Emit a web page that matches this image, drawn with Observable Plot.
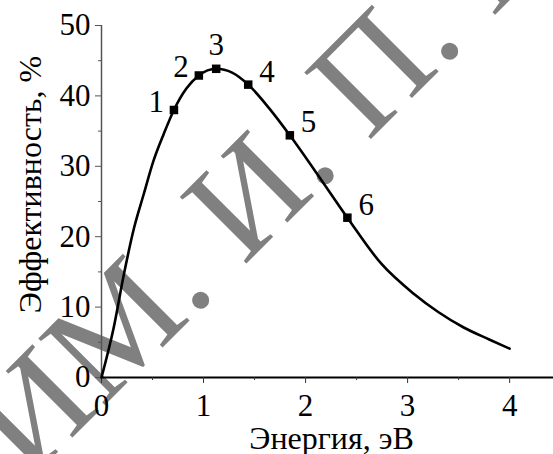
<!DOCTYPE html>
<html>
<head>
<meta charset="utf-8">
<script src="https://cdn.jsdelivr.net/npm/d3@7"></script>
<script src="https://cdn.jsdelivr.net/npm/@observablehq/plot@0.6"></script>
<style>
  html, body { margin: 0; padding: 0; background: #fff; }
  #chart svg { display: block; }
  #chart svg, #chart svg text { font-family: "Liberation Serif", "LiberationSerif", "Tinos", "Times New Roman", "Times", "Nimbus Roman", "Nimbus Roman No9 L", "FreeSerif", "Noto Serif", "DejaVu Serif", "Georgia", serif !important; }
</style>
</head>
<body>
<div id="chart"></div>
<script>
// Curve
const energy = [0, 0.12, 0.22, 0.32, 0.415, 0.51, 0.61, 0.71, 0.83, 0.954, 1.124, 1.28, 1.438, 1.64, 1.846, 2.1, 2.41, 2.74, 3.06, 3.3, 3.55, 3.8, 4.0];
const efficiency = [0, 7.1, 14.7, 21.3, 26.1, 30.8, 34.6, 38.0, 41.0, 42.9, 43.85, 43.3, 41.6, 38.3, 34.4, 29.2, 22.7, 16.2, 11.9, 9.3, 7.1, 5.4, 4.1];

// Marked points
const pointEnergy = [0.71, 0.954, 1.124, 1.438, 1.846, 2.41];
const pointEff = [38.0, 42.9, 43.85, 41.6, 34.4, 22.7];
const pointLabels = ["1", "2", "3", "4", "5", "6"];

// Ticks
const xTicks = [0, 1, 2, 3, 4];
const xMinor = [0.5, 1.5, 2.5, 3.5];
const yTicks = [0, 10, 20, 30, 40, 50];
const yMinor = [5, 15, 25, 35, 45];

const xLabel = "Энергия, эВ";
const yLabel = "Эффективность, %";
const watermark = ["ИМ. И. П. П"];

const curve = energy.map((e, i) => ({e, v: efficiency[i]}));
const pts = pointEnergy.map((e, i) => ({e, v: pointEff[i], label: pointLabels[i], i}));

const FS = 31;
const fmt = d => String(d);

const chart = Plot.plot({
  width: 553,
  height: 454,
  marginLeft: 101,
  marginRight: 0,
  marginTop: 25,
  marginBottom: 77,
  style: "font-size: 31px; background: #fff; color: #000; overflow: visible;",
  x: {domain: [0, 4.43]},
  y: {domain: [0, 50]},
  marks: [
    Plot.text(watermark, {frameAnchor: "bottom-left", rotate: -45, textAnchor: "start", lineAnchor: "bottom",
      dx: -73, dy: 104, fontSize: 144, fill: "#808080"}),
    Plot.ruleX([0], {stroke: "#555", strokeWidth: 1.5}),
    Plot.ruleY([0], {stroke: "#000", strokeWidth: 1.8}),
    Plot.axisX({ticks: xTicks, tickFormat: fmt, tickSize: 6, tickPadding: 10, label: null, fontSize: FS, stroke: "#333"}),
    Plot.axisX({ticks: xMinor, tickSize: 3, tickFormat: () => "", label: null, stroke: "#333"}),
    Plot.axisY({ticks: yTicks, tickFormat: fmt, tickSize: 6, tickPadding: 5, label: null, fontSize: FS, stroke: "#555"}),
    Plot.axisY({ticks: yMinor, tickSize: 3, tickFormat: () => "", label: null, stroke: "#555"}),
    Plot.line(curve, {x: "e", y: "v", curve: "monotone-x", stroke: "#000", strokeWidth: 2.6}),
    Plot.dot(pts, {x: "e", y: "v", symbol: "square", r: 4.8, fill: "#000", stroke: "none"}),
    Plot.text(pts.filter(d => d.i < 2), {x: "e", y: "v", text: "label", textAnchor: "end", dx: -10, dy: -8, fontSize: FS}),
    Plot.text(pts.filter(d => d.i === 2), {x: "e", y: "v", text: "label", textAnchor: "middle", dy: -24, fontSize: FS}),
    Plot.text(pts.filter(d => d.i > 2), {x: "e", y: "v", text: "label", textAnchor: "start", dx: 11, dy: -13, fontSize: FS}),
    Plot.text([xLabel], {frameAnchor: "bottom", lineAnchor: "bottom", dx: 4, dy: 71, fontSize: FS + 1}),
    Plot.text([yLabel], {frameAnchor: "left", rotate: -90, textAnchor: "middle", dx: -71, dy: -17, fontSize: FS + 1})
  ]
});
document.getElementById("chart").appendChild(chart);
</script>
</body>
</html>
